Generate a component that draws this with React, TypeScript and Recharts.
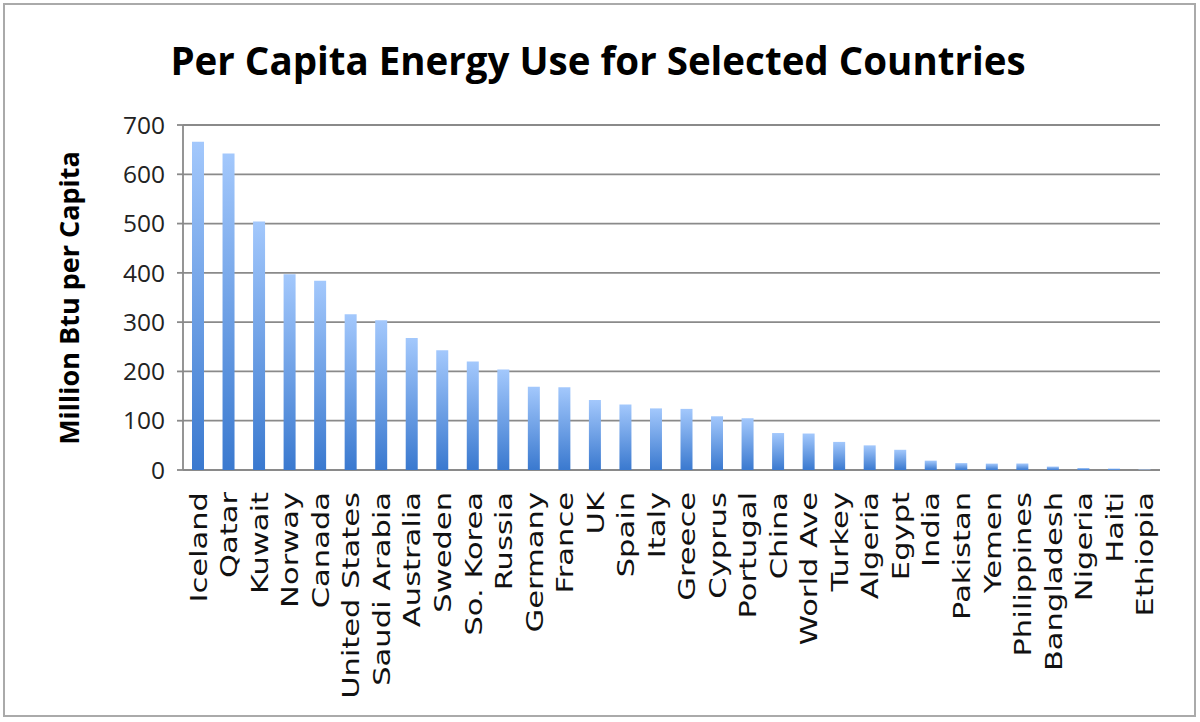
import { BarChart, Bar, XAxis, YAxis, CartesianGrid } from "recharts";

const countries = [
  "Iceland", "Qatar", "Kuwait", "Norway", "Canada", "United States", "Saudi Arabia",
  "Australia", "Sweden", "So. Korea", "Russia", "Germany", "France", "UK", "Spain",
  "Italy", "Greece", "Cyprus", "Portugal", "China", "World Ave", "Turkey", "Algeria",
  "Egypt", "India", "Pakistan", "Yemen", "Philippines", "Bangladesh", "Nigeria",
  "Haiti", "Ethiopia",
];

const energyUse = [
  666, 642, 504, 397, 384, 316, 304, 268, 243, 220, 204, 169, 168, 142, 133, 125,
  124, 109, 105, 75, 74, 57, 50, 41, 19, 14, 13, 13, 7, 4, 3, 1,
];

const yTicks = [0, 100, 200, 300, 400, 500, 600, 700];

const rows = countries.map((name, i) => ({ name, idx: i, value: energyUse[i] }));
const edgeTicks = [...countries.map((_, i) => i), countries.length];

const gridColor = "#8a8a8a";

const CountryTick = (props: any) => {
  const { x, y, payload } = props;
  // labels in the original look stretched along their length
  return (
    <text
      transform={`translate(${x},${y + 14}) rotate(-90) scale(1.3,1)`}
      textAnchor="end"
      dy="0.36em"
      fontFamily="DejaVu Sans"
      fontSize={23.5}
      fill="#111"
    >
      {payload.value}
    </text>
  );
};

export default function App() {
  return (
    <div style={{ position: "relative", width: 1200, height: 722, background: "#fff" }}>
      <style>{`body{margin:0}`}</style>
      <div
        style={{
          position: "absolute",
          left: 3,
          top: 3,
          width: 1193,
          height: 714,
          border: "2px solid #aaa",
          boxSizing: "border-box",
        }}
      />
      <div
        style={{
          position: "absolute",
          left: 0,
          width: 1196,
          top: 33,
          textAlign: "center",
          fontFamily: "Open Sans",
          fontWeight: 700,
          fontSize: 38.5,
          color: "#000",
          lineHeight: "54px",
        }}
      >
        Per Capita Energy Use for Selected Countries
      </div>
      <div
        style={{
          position: "absolute",
          left: 68,
          top: 298,
          transform: "translate(-50%, -50%) rotate(-90deg)",
          whiteSpace: "nowrap",
          fontFamily: "Open Sans",
          fontWeight: 700,
          fontSize: 27,
          color: "#000",
        }}
      >
        Million Btu per Capita
      </div>
      <BarChart
        width={1200}
        height={722}
        data={rows}
        margin={{ top: 125, right: 40, bottom: 12, left: 40 }}
        style={{ position: "absolute", left: 0, top: 0 }}
      >
        <CartesianGrid
          xAxisId="cat"
          vertical={false}
          stroke={gridColor}
          strokeWidth={1.8}
        />
        <XAxis
          xAxisId="edge"
          dataKey="idx"
          type="number"
          domain={[0, countries.length]}
          ticks={edgeTicks}
          allowDataOverflow
          tick={false}
          tickSize={8}
          height={0}
          stroke={gridColor}
          tickLine={{ stroke: gridColor, strokeWidth: 1.8 }}
          axisLine={{ stroke: gridColor, strokeWidth: 1.8 }}
        />
        <XAxis
          xAxisId="cat"
          dataKey="name"
          interval={0}
          height={240}
          tickLine={false}
          axisLine={false}
          tick={<CountryTick />}
        />
        <YAxis
          domain={[0, 700]}
          ticks={yTicks}
          width={143}
          tickSize={6}
          tickMargin={12}
          stroke={gridColor}
          tickLine={{ stroke: gridColor, strokeWidth: 1.8 }}
          axisLine={{ stroke: gridColor, strokeWidth: 1.8 }}
          tick={{ fontFamily: "Open Sans", fontSize: 24.5, fill: "#222" }}
        />
        <defs>
          <linearGradient id="barFill" x1="0" y1="0" x2="0" y2="1">
            <stop offset="0%" stopColor="#a3c8fc" />
            <stop offset="100%" stopColor="#3a79cf" />
          </linearGradient>
        </defs>
        <Bar
          xAxisId="cat"
          dataKey="value"
          fill="url(#barFill)"
          barSize={12}
          isAnimationActive={false}
        />
      </BarChart>
    </div>
  );
}
